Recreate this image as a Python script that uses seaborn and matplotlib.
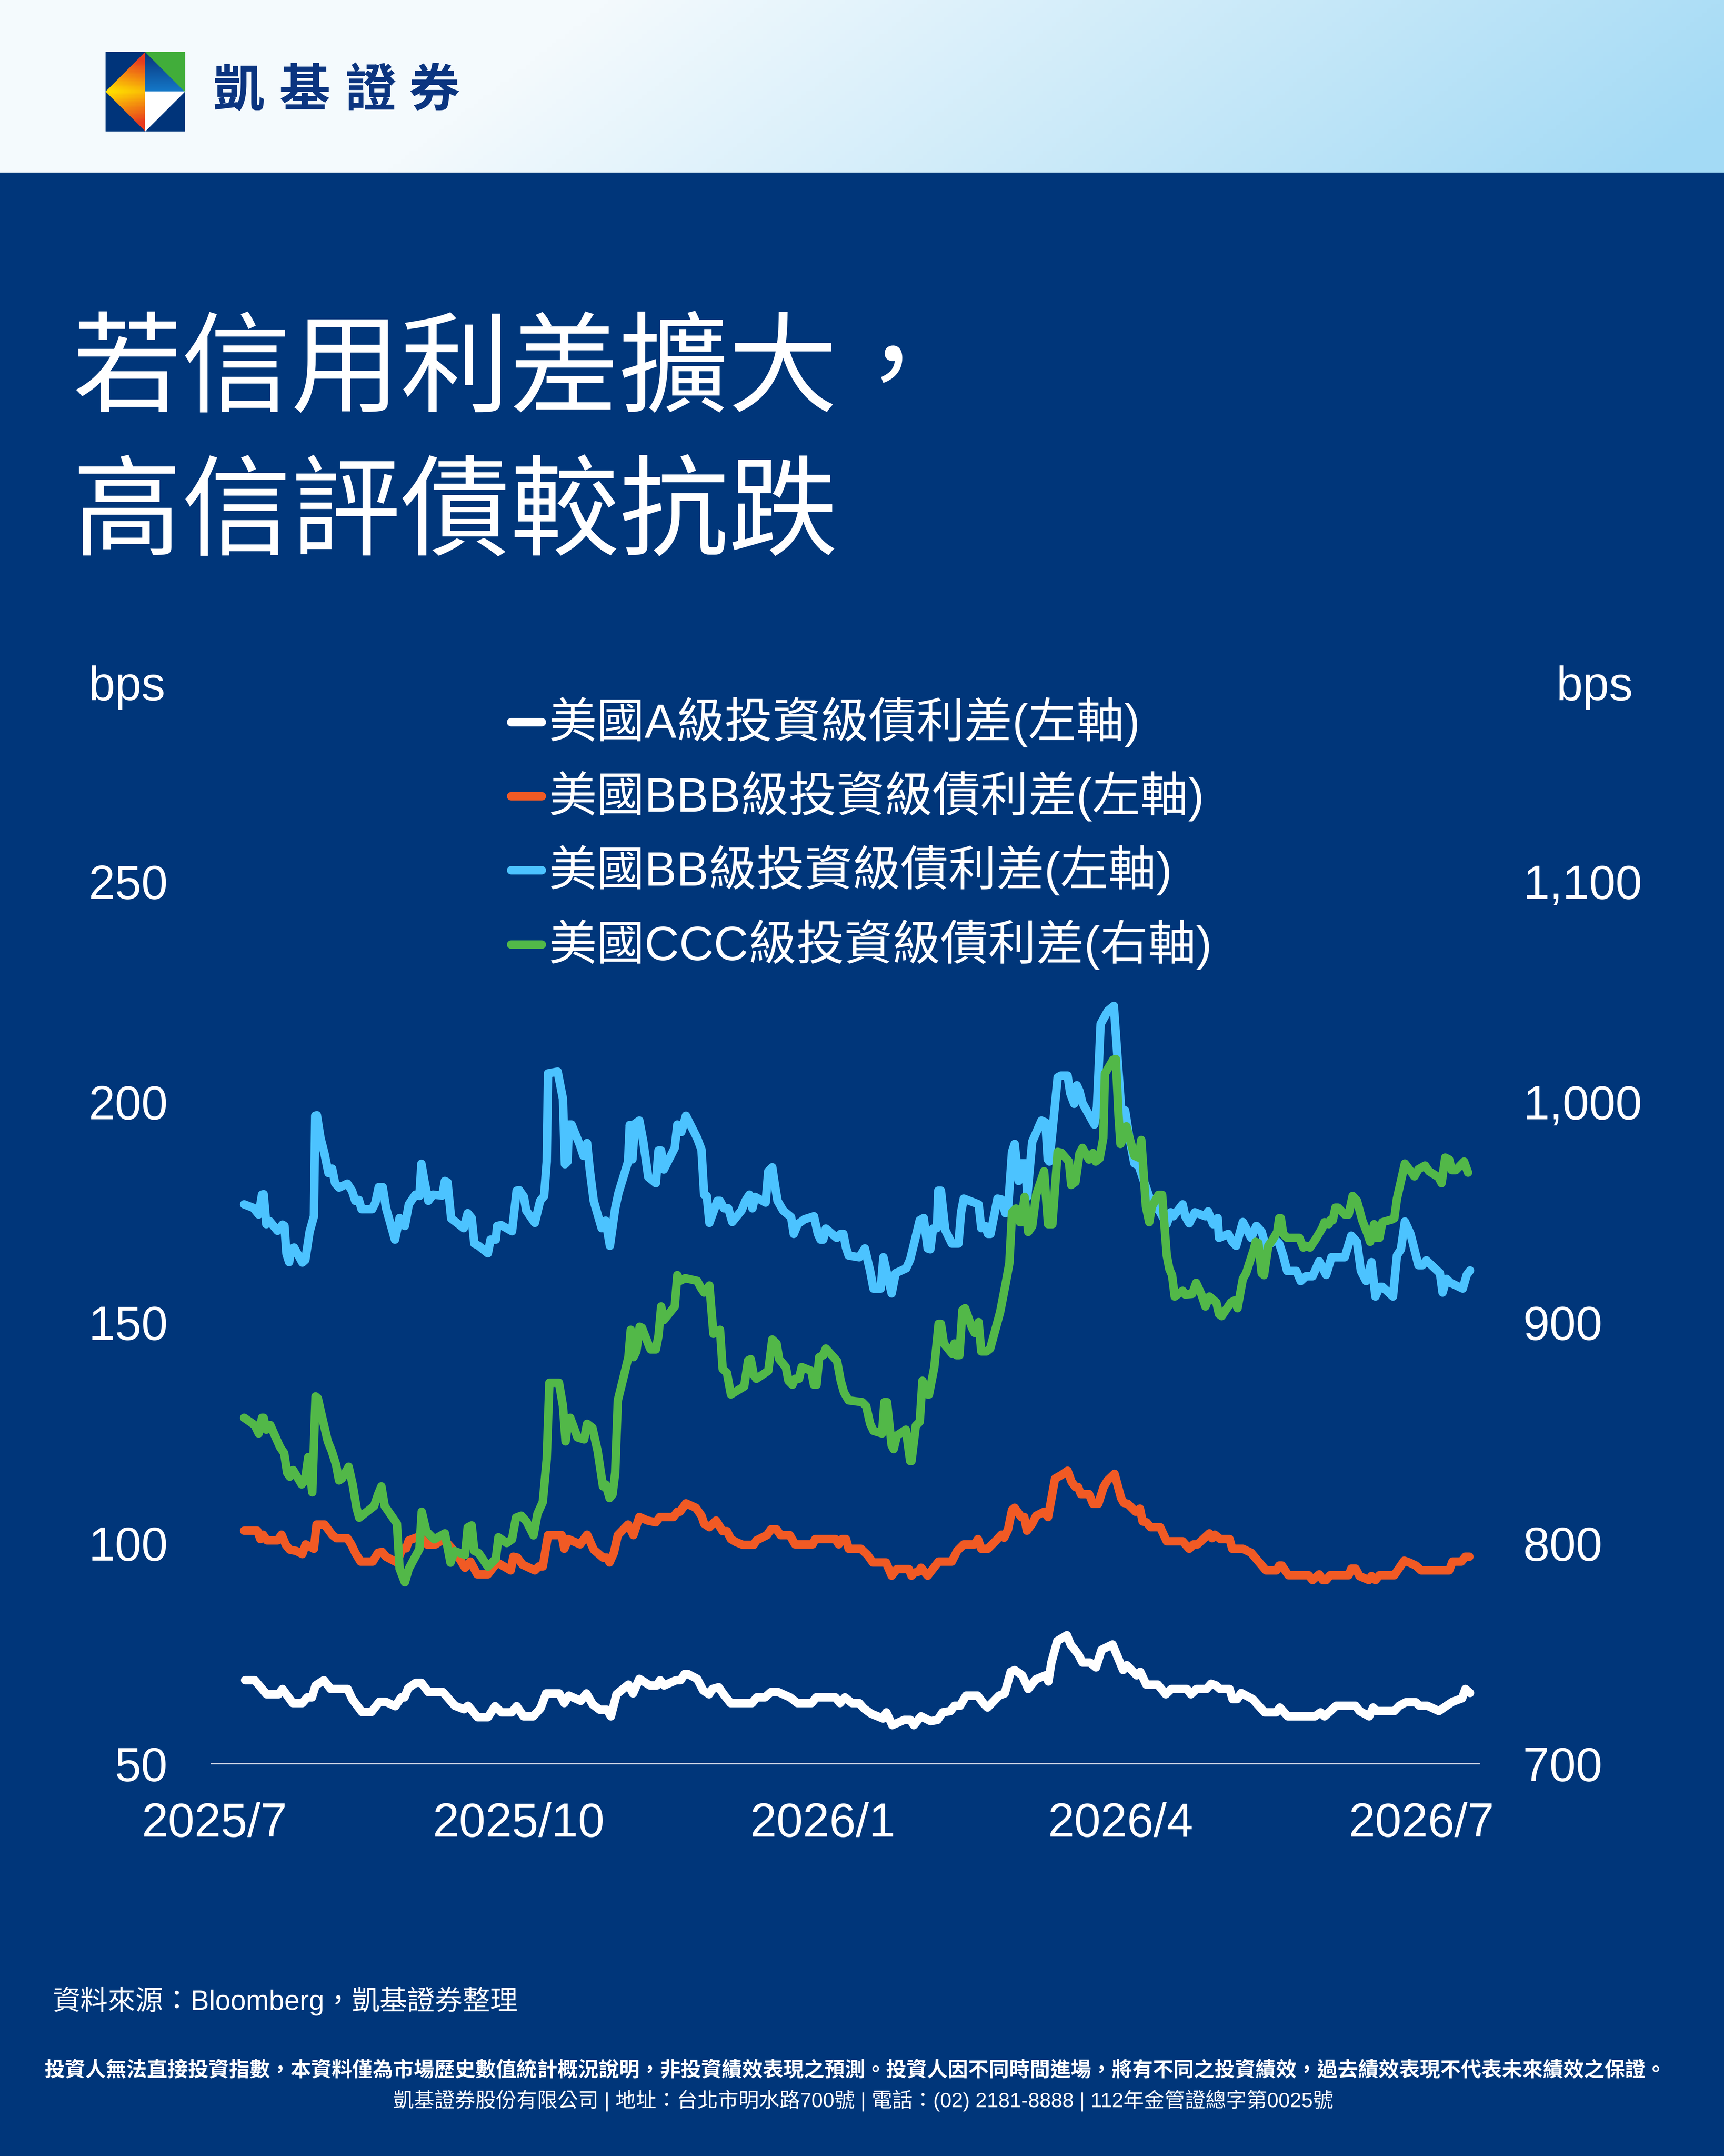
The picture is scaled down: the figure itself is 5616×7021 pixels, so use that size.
import numpy as np
import pandas as pd
import matplotlib
matplotlib.use('Agg')
import matplotlib.pyplot as plt
from matplotlib.patches import Rectangle, Polygon
from matplotlib.lines import Line2D
import seaborn as sns

# spreads, x = days after 2025-07-01, y = bps
a_day = [9.3, 12.2, 15.8, 19.4, 20.6, 23.7, 26.6, 28.1, 29.5, 30.6, 33.1, 35.2, 40.3, 41.7, 44.6, 47.5,
         49.9, 51.8, 54.7, 56.5, 57.5, 58.6, 60.9, 62.6, 64.7, 69.1, 72.7, 75.5, 76.7, 79.6, 82.7, 84.9,
         86.8, 89.9, 91.4, 93.5, 96.4, 98.6, 100.3, 104.3, 105.8, 107.2, 110.8, 112.5, 114.4, 116.5,
         118.7, 119.9, 121.6, 125.2, 126.6, 128.5, 131.7, 133.8, 134.8, 136.0, 139.6, 141.0, 142.2,
         143.2, 146.0, 147.8, 149.6, 150.6, 152.5, 154.0, 156.1, 162.6, 164.0, 166.5, 168.3, 170.5,
         174.1, 176.3, 180.6, 182.0, 187.8, 189.2, 190.7, 192.8, 195.0, 196.4, 198.6, 202.2, 203.2,
         205.0, 208.6, 210.5, 211.5, 213.7, 216.6, 218.7, 220.2, 222.6, 223.8, 225.5, 227.3, 230.8,
         232.6, 233.8, 237.3, 239.0, 240.8, 242.0, 244.3, 246.1, 248.4, 251.3, 252.2, 253.1, 254.9,
         257.8, 258.9, 261.3, 262.5, 264.8, 266.6, 268.3, 271.6, 274.8, 275.9, 278.9, 280.0, 281.8,
         285.3, 287.7, 289.4, 294.1, 295.3, 297.0, 300.0, 301.4, 302.9, 304.1, 307.0, 307.9, 309.3,
         310.5, 314.0, 315.8, 317.6, 321.1, 322.2, 324.6, 332.8, 334.5, 335.7, 337.5, 339.2, 345.1,
         346.3, 349.2, 350.4, 351.5, 356.8, 358.3, 360.3, 363.3, 364.4, 366.8, 370.3, 372.6, 374.4,
         377.3, 378.3, 379.7]
a_bps = [68.9, 68.9, 65.7, 65.7, 66.9, 63.7, 63.7, 65.0, 65.0, 67.7, 68.9, 66.9, 66.9, 64.6, 61.7, 61.7,
         64.0, 64.0, 63.0, 65.0, 65.0, 67.1, 68.3, 68.3, 66.2, 66.2, 63.1, 62.3, 63.1, 60.5, 60.5, 63.0,
         61.6, 61.6, 63.0, 60.7, 60.7, 62.5, 65.9, 65.9, 63.7, 65.4, 64.2, 65.9, 63.4, 62.2,
         62.2, 60.7, 65.7, 67.9, 65.9, 69.2, 67.7, 67.7, 68.9, 67.7, 68.9, 68.9, 70.3,
         70.3, 69.2, 66.6, 65.7, 66.9, 67.3, 65.7, 63.7, 63.7, 65.0, 65.0, 66.2, 66.2,
         65.0, 63.7, 63.7, 65.0, 65.0, 63.7, 65.0, 63.7, 63.7, 62.5, 61.3, 60.2, 61.6,
         58.7, 59.9, 59.9, 58.7, 60.7, 59.6, 59.9, 61.6, 61.9, 63.1, 63.1, 65.4, 65.4,
         63.6, 62.7, 65.4, 65.9, 70.8, 71.2, 70.0, 66.9, 69.1, 70.0, 68.6, 72.9, 77.8,
         79.1, 77.0, 74.7, 72.9, 72.9, 71.8, 75.8, 77.0, 71.2, 72.3, 70.0, 70.8, 67.9,
         67.9, 65.7, 66.9, 66.9, 65.7, 66.9, 66.9, 68.1, 67.7, 66.9, 66.9, 64.6, 64.6,
         66.0, 64.6, 63.1, 61.6, 61.6, 62.7, 60.7, 60.7, 61.6, 60.7, 61.9, 63.1, 63.1,
         61.9, 60.7, 62.7, 61.9, 61.9, 63.1, 63.9, 63.9, 63.1, 63.1, 61.9, 63.1, 64.0,
         64.8, 66.9, 66.0]

bbb_day = [9.0, 13.0, 13.9, 14.7, 15.9, 19.1, 20.3, 21.6, 22.8, 24.8, 26.6, 27.6, 30.1, 30.9, 33.3, 35.7,
           36.9, 40.2, 41.4, 42.6, 44.2, 47.9, 49.5, 50.7, 51.9, 55.2, 56.8, 58.0, 58.8, 62.0, 64.5,
           66.9, 69.3, 73.0, 75.8, 77.4, 79.5, 82.7, 85.5, 89.6, 90.4, 91.6, 93.2, 96.9, 98.1, 99.3,
           100.9, 105.0, 105.8, 107.0, 110.6, 112.7, 114.7, 117.5, 118.7, 119.5, 120.8, 122.0, 125.1,
           126.7, 128.5, 131.0, 133.5, 134.7, 138.8, 140.0, 140.8, 142.6, 145.6, 147.3, 148.1, 149.7,
           151.7, 153.7, 155.0, 156.2, 157.8, 159.8, 163.1, 163.9, 167.1, 168.3, 170.0, 171.2, 174.0,
           175.6, 180.9, 181.7, 187.8, 188.8, 189.8, 191.0, 191.8, 195.5, 197.5, 199.1, 203.1, 204.8,
           206.4, 210.0, 210.8, 211.7, 212.9, 213.7, 215.7, 219.0, 223.0, 224.6, 226.6, 229.9, 230.9,
           231.9, 233.9, 236.4, 238.0, 238.8, 240.0, 241.2, 242.0, 244.0, 244.9, 245.7, 247.3, 248.5,
           250.9, 252.1, 254.2, 256.3, 258.0, 259.2, 260.4, 261.2, 262.0, 264.5, 265.7, 267.3, 268.9,
           270.1, 272.2, 274.2, 275.0, 276.2, 278.6, 279.9, 280.7, 281.9, 283.1, 286.0, 288.0, 292.8,
           294.8, 296.1, 297.3, 300.9, 301.7, 302.5, 304.2, 307.0, 307.8, 311.0, 313.5, 318.0, 321.2,
           322.0, 322.8, 324.8, 330.9, 332.1, 334.1, 335.2, 336.2, 337.4, 343.0, 343.8, 345.1, 346.3,
           349.1, 349.9, 351.1, 352.3, 356.8, 359.8, 361.3, 363.3, 364.9, 373.4, 374.4, 377.1, 378.3,
           379.5]
bbb_bps = [102.8, 102.8, 100.9, 101.9, 100.6, 100.6, 101.9, 99.6, 98.5, 98.2, 97.5, 99.7, 98.7, 104.2, 104.2, 101.8,
           101.1, 101.1, 99.7, 97.8, 95.8, 95.8, 97.8, 98.0, 96.9, 95.6, 98.7, 98.8, 100.6, 101.5, 99.6,
           99.7, 100.9, 97.8, 94.4, 95.8, 92.9, 92.9, 95.6, 93.8, 96.9, 96.7, 95.1, 93.8, 94.7, 94.7,
           101.8, 101.8, 98.7, 100.9, 99.7, 101.9, 98.5, 96.7, 96.7, 95.6, 97.8, 101.8, 104.2,
           101.8, 105.9, 105.1, 104.7, 105.9, 105.9, 107.1, 107.1, 109.0, 108.0, 106.2, 104.4, 103.6,
           105.1, 102.7, 102.7, 100.9, 100.2, 99.6, 99.6, 100.6, 101.8, 103.1, 103.1, 101.8, 101.8,
           99.7, 99.7, 100.9, 100.9, 99.7, 100.9, 100.9, 98.7, 98.7, 97.3, 95.6, 95.6, 92.6,
           94.1, 94.1, 92.6, 93.3, 93.5, 94.4, 92.6, 95.8, 95.8, 98.2, 99.7, 99.7, 100.9,
           98.7, 98.7, 100.6, 101.9, 101.2, 103.1, 107.5, 108.0, 105.9, 105.9, 102.8, 104.4, 106.2,
           107.1, 105.9, 114.6, 115.5, 116.4, 113.9, 112.7, 112.7, 111.1, 111.1, 108.9, 108.9, 112.7,
           114.2, 115.7, 110.2, 109.1, 108.9, 107.1, 107.8, 104.9, 104.7, 103.6, 103.6, 100.4, 100.4,
           98.7, 99.7, 99.7, 102.2, 101.1, 101.9, 100.9, 100.9, 98.7, 98.7, 97.8, 93.8, 93.8,
           94.9, 94.9, 92.7, 92.7, 91.6, 92.9, 91.6, 91.6, 92.7, 92.7, 94.2, 94.2, 92.5,
           91.6, 92.5, 91.6, 92.7, 92.7, 96.0, 95.6, 94.9, 93.8, 93.8, 95.8, 95.8, 96.9,
           96.9]

bb_day = [9.0, 11.8, 13.4, 14.4, 14.9, 15.7, 16.7, 19.1, 20.6, 21.2, 21.8, 22.6, 23.3, 24.1, 26.6, 27.5,
          28.8, 30.1, 30.5, 31.0, 32.1, 33.3, 34.5, 35.6, 36.5, 37.7, 40.2, 41.6, 42.6, 43.7, 44.5, 47.7,
          48.7, 49.7, 50.9, 51.9, 54.6, 56.0, 57.6, 58.8, 60.8, 62.0, 62.6, 63.5, 64.7, 66.1, 68.9, 69.7,
          70.5, 71.6, 73.0, 75.4, 76.6, 77.8, 78.6, 79.9, 82.7, 83.5, 85.1, 85.5, 86.7, 90.0, 91.4, 92.2,
          93.6, 94.3, 96.9, 98.5, 99.7, 100.5, 100.9, 103.8, 105.4, 106.0, 106.8, 107.2, 108.0, 110.6,
          111.6, 112.7, 113.5, 114.7, 117.1, 118.3, 119.6, 121.2, 122.2, 125.1, 125.6, 126.4, 127.2,
          128.5, 129.7, 131.2, 133.5, 134.3, 135.1, 135.9, 139.2, 140.0, 141.2, 142.6, 146.0, 147.3,
          148.1, 148.9, 149.7, 152.1, 152.9, 154.1, 155.4, 156.6, 159.4, 160.6, 161.8, 162.7, 163.5,
          166.7, 167.5, 168.7, 169.5, 170.3, 172.0, 174.4, 175.2, 176.4, 178.4, 181.3, 182.5, 183.3,
          184.1, 184.9, 188.2, 189.4, 190.2, 191.0, 191.8, 195.0, 196.7, 198.3, 199.3, 201.5, 202.3,
          203.9, 204.8, 206.0, 209.2, 210.4, 213.3, 214.5, 215.7, 216.5, 217.3, 218.5, 218.9, 219.7,
          221.0, 223.0, 225.0, 225.8, 226.6, 231.1, 231.9, 233.1, 233.9, 234.7, 236.8, 238.0, 239.2,
          240.0, 241.2, 242.0, 243.2, 244.0, 245.3, 245.8, 247.3, 250.1, 251.3, 252.0, 252.5, 253.8,
          255.0, 256.0, 258.0, 258.8, 260.0, 260.8, 261.6, 262.5, 266.1, 266.9, 268.0, 270.2, 272.0,
          274.2, 275.4, 276.6, 278.2, 279.5, 282.7, 286.0, 288.0, 289.2, 290.0, 292.8, 293.6, 294.8,
          296.5, 299.7, 300.5, 302.0, 303.4, 303.8, 306.6, 307.8, 309.0, 311.0, 313.5, 315.1, 316.7,
          318.0, 320.8, 322.0, 323.2, 324.4, 327.2, 328.5, 330.1, 332.1, 334.1, 336.2, 337.8, 341.8,
          343.8, 345.5, 346.7, 348.3, 349.9, 351.1, 352.4, 353.2, 356.4, 357.6, 358.8, 360.0, 361.7,
          364.1, 365.3, 366.5, 370.6, 371.4, 372.6, 373.8, 377.5, 378.7, 379.7]
bb_bps = [176.8, 176.0, 174.5, 179.0, 179.1, 172.3, 173.0, 170.8, 172.2, 171.9, 165.6, 163.7, 166.7, 167.0, 163.6, 164.2,
          170.6, 174.1, 196.9, 197.0, 191.8, 188.3, 183.9, 184.9, 181.6, 180.6, 181.5, 179.9, 177.6, 177.8, 175.7, 175.7,
          177.2, 180.7, 180.7, 176.0, 168.8, 173.7, 171.9, 176.8, 179.0, 178.7, 186.0, 182.1, 177.6, 179.0, 178.8, 182.1,
          181.8, 173.6, 172.8, 171.4, 174.8, 173.7, 167.9, 167.4, 165.7, 168.8, 168.8, 171.9, 172.1, 170.7, 179.9, 180.0,
          178.5, 175.4, 172.6, 177.6, 178.7, 186.5, 206.5, 206.9, 200.7, 185.9, 186.5, 194.9, 194.9, 190.1,
          187.8, 190.7, 184.7, 177.6, 171.4, 173.1, 167.4, 175.9, 179.4, 186.5, 194.8, 187.0, 195.1,
          195.8, 191.0, 183.0, 181.6, 189.0, 189.0, 184.7, 189.6, 194.9, 193.2, 196.9, 191.8, 189.2,
          179.0, 178.7, 172.6, 177.6, 177.6, 175.9, 175.9, 172.8, 175.4, 177.6, 179.0, 175.9, 178.5,
          177.2, 184.3, 185.2, 181.2, 177.6, 175.4, 173.9, 170.1, 172.3, 173.4, 174.1, 170.1, 168.8,
          168.8, 171.3, 169.2, 170.1, 170.1, 167.0, 165.2, 164.8, 166.8, 161.7, 157.7, 157.7, 164.8,
          159.4, 156.6, 161.2, 162.3, 164.3, 173.2, 173.7, 166.8, 166.6, 171.3, 171.4, 179.9, 179.9,
          171.0, 167.9, 167.9, 175.0, 178.1, 176.8, 171.4, 171.9, 170.1, 170.1, 178.1, 177.9, 174.8,
          175.9, 188.7, 190.5, 182.1, 186.1, 186.1, 178.5, 191.0, 195.8, 195.4, 187.0, 186.5, 196.3,
          205.6, 206.0, 206.0, 202.0, 199.6, 203.8, 202.5, 199.8, 194.9, 198.9, 217.7, 220.7, 221.8,
          198.5, 198.1, 192.3, 186.1, 185.6, 178.5, 175.0, 172.3, 175.0, 174.1, 176.8, 174.1, 172.5,
          175.0, 174.1, 175.2, 172.3, 173.7, 169.2, 170.1, 168.3, 167.4, 172.8, 169.2, 171.9, 170.6,
          167.0, 168.8, 167.9, 165.2, 161.7, 161.7, 159.4, 160.5, 160.5, 163.9, 160.8, 164.8, 164.8,
          169.7, 168.3, 161.7, 159.4, 163.7, 155.9, 158.1, 158.1, 155.9, 165.2, 166.6, 172.9, 170.1,
          163.0, 163.0, 164.1, 161.2, 156.8, 159.9, 159.0, 157.7, 160.8, 161.8]

ccc_day = [9.0, 12.2, 13.4, 14.4, 14.9, 15.7, 16.9, 18.7, 19.9, 21.1, 22.0, 22.8, 23.8, 26.4, 27.4, 28.4,
           29.6, 30.6, 31.3, 32.5, 34.3, 35.5, 36.8, 37.7, 38.6, 40.6, 41.8, 43.0, 43.8, 48.3, 49.5, 50.5,
           51.5, 55.2, 56.0, 57.6, 58.8, 62.0, 62.7, 64.1, 66.5, 69.7, 71.4, 72.6, 75.8, 76.6, 77.8, 78.6,
           79.9, 82.7, 85.1, 85.9, 88.4, 90.0, 91.2, 92.8, 94.4, 96.5, 97.7, 99.3, 100.5, 101.3, 104.2,
           105.4, 106.2, 107.0, 107.6, 109.8, 111.8, 112.7, 114.3, 115.9, 117.5, 118.3, 119.5, 120.4,
           121.2, 122.0, 125.2, 125.9, 126.7, 127.6, 128.6, 129.3, 131.4, 131.9, 133.5, 134.3, 135.1,
           135.9, 139.2, 140.0, 140.8, 142.4, 146.0, 147.3, 148.1, 149.7, 150.9, 152.9, 153.7, 155.0,
           156.2, 160.2, 161.4, 162.2, 163.1, 163.9, 167.5, 168.7, 170.0, 170.8, 172.8, 173.6, 174.8,
           175.6, 176.8, 177.6, 180.5, 181.3, 182.1, 182.9, 184.1, 184.9, 188.3, 189.4, 190.4, 191.8,
           195.9, 197.1, 198.3, 199.3, 201.9, 202.6, 203.4, 204.8, 205.4, 206.4, 209.1, 210.4, 210.8,
           212.1, 213.3, 214.1, 215.7, 216.1, 217.7, 219.0, 219.7, 220.6, 223.0, 223.8, 224.4, 225.3,
           226.2, 227.0, 229.1, 229.9, 231.1, 231.9, 233.5, 234.6, 237.6, 239.2, 240.4, 241.2, 242.4,
           243.6, 244.0, 245.0, 246.1, 247.3, 248.5, 250.9, 252.1, 253.4, 255.0, 256.1, 258.4, 259.1,
           260.4, 261.6, 262.5, 264.5, 265.7, 266.5, 267.7, 268.8, 269.3, 271.8, 272.6, 273.4, 274.0,
           274.8, 275.8, 278.2, 279.5, 280.3, 281.7, 282.7, 283.5, 285.5, 286.6, 288.0, 288.8, 289.6,
           290.4, 292.8, 293.6, 295.7, 296.9, 298.5, 299.7, 300.9, 303.0, 303.8, 304.6, 307.4, 308.5,
           309.4, 311.0, 312.0, 314.3, 314.9, 315.7, 316.7, 317.4, 318.7, 320.0, 321.4, 322.0, 322.5,
           323.2, 324.4, 328.1, 329.3, 330.1, 331.3, 332.9, 335.0, 335.7, 337.0, 337.4, 338.2, 339.0,
           339.8, 341.8, 343.0, 344.2, 345.5, 347.1, 348.7, 349.5, 350.7, 351.5, 352.3, 353.2, 356.0,
           356.8, 357.6, 358.8, 360.0, 362.9, 364.1, 366.1, 367.3, 370.2, 371.1, 372.2, 373.4, 374.2,
           375.4, 377.9, 379.1]
ccc_bps = [856.8, 853.5, 849.7, 856.8, 856.8, 851.4, 853.5, 847.4, 843.4, 840.8, 831.9, 830.1, 833.1, 826.6, 828.4, 839.0,
           823.0, 866.5, 865.6, 857.6, 846.1, 841.7, 835.5, 828.4, 829.3, 834.6, 826.6, 815.9, 811.5, 816.8, 822.1, 825.7,
           816.8, 808.8, 788.4, 782.2, 788.4, 797.3, 814.2, 805.3, 801.7, 804.4, 791.1, 796.4, 794.6, 807.1, 808.0, 796.4,
           795.5, 789.3, 792.9, 802.6, 800.0, 801.7, 811.5, 812.4, 809.7, 803.5, 813.3, 818.6, 838.1, 872.7, 872.7,
           862.1, 846.1, 855.9, 856.8, 847.9, 847.0, 854.1, 852.3, 841.7, 825.7, 826.6, 820.4, 822.1,
           831.9, 864.7, 884.3, 896.7, 884.3, 886.9, 898.1, 897.6, 889.5, 887.8, 887.8, 894.0, 907.3,
           901.1, 907.3, 921.5, 918.9, 920.1, 918.9, 915.3, 913.6, 916.8, 894.9, 896.7, 879.0, 877.2,
           867.4, 871.0, 882.8, 883.4, 876.3, 874.5, 878.1, 892.3, 890.5, 883.4, 879.8, 873.6, 871.8,
           874.5, 874.5, 879.8, 878.1, 871.8, 871.8, 884.3, 885.2, 888.2, 882.5, 873.6, 868.3, 864.7,
           863.9, 862.1, 854.1, 850.9, 849.7, 863.9, 863.9, 844.3, 842.6, 848.8, 851.4, 837.2, 837.2,
           853.2, 855.0, 873.6, 867.4, 867.4, 879.8, 899.4, 899.4, 890.5, 886.0, 890.5, 885.2, 885.2,
           905.6, 906.5, 897.6, 895.3, 900.2, 886.9, 886.9, 888.2, 904.7, 917.1, 926.9, 949.9, 951.7,
           945.5, 945.5, 957.0, 941.1, 943.7, 957.9, 968.6, 944.6, 944.6, 977.4, 977.0, 973.0, 962.4,
           963.8, 976.6, 979.2, 973.9, 976.9, 973.0, 974.4, 983.7, 1012.9, 1019.2, 1019.5, 994.3, 981.0,
           983.3, 989.0, 975.7, 974.8, 982.8, 952.6, 945.5, 952.6, 957.9, 957.9, 930.4, 924.2, 921.5,
           911.8, 914.4, 912.7, 913.0, 918.0, 912.7, 907.3, 911.8, 909.1, 903.8, 902.9, 909.1, 910.0,
           906.5, 919.8, 922.4, 933.1, 936.6, 936.1, 922.4, 921.5, 934.8, 937.5, 941.1, 947.3, 947.3,
           940.2, 938.4, 938.4, 934.0, 934.8, 934.0, 937.5, 942.8, 945.5, 944.6, 946.4, 946.4, 952.1,
           952.1, 949.0, 949.0, 957.4, 955.3, 946.4, 940.2, 936.6, 944.6, 938.4, 938.4, 945.5, 946.7,
           947.3, 956.2, 964.1, 972.1, 966.3, 969.5, 971.2, 968.6, 965.9, 963.2, 974.8, 973.9, 969.1,
           969.1, 973.0, 968.0]

series_names = ['美國A級投資級債利差(左軸)', '美國BBB級投資級債利差(左軸)',
                '美國BB級投資級債利差(左軸)', '美國CCC級投資級債利差(右軸)']
series_colors = ['#ffffff', '#f15a24', '#4cc3ff', '#52b848']

left_ticks = [50, 100, 150, 200, 250, 300]
left_labels = ['50', '100', '150', '200', '250', '']
right_ticks = [700, 800, 900, 1000, 1100, 1200]
right_labels = ['700', '800', '900', '1,000', '1,100', '']
x_ticks = ['2025-07-01', '2025-10-01', '2026-01-01', '2026-04-01', '2026-07-01']
x_labels = ['2025/7', '2025/10', '2026/1', '2026/4', '2026/7']

title_lines = ['若信用利差擴大，', '高信評債較抗跌']
source_text = '資料來源：Bloomberg，凱基證券整理'
disclaimer = ('投資人無法直接投資指數，本資料僅為市場歷史數值統計概況說明，非投資績效表現之預測。'
              '投資人因不同時間進場，將有不同之投資績效，過去績效表現不代表未來績效之保證。')
address = '凱基證券股份有限公司 | 地址：台北市明水路700號 | 電話：(02) 2181-8888 | 112年金管證總字第0025號'

navy = '#00367a'
W, H = 6240, 7801          # layout is laid out in reference pixels
DPI = 90                   # keeps the png under the 40 MP reader limit
LW = 22                    # series line width, pt
base = pd.Timestamp('2025-07-01')

sns.set_theme(style='white')
plt.rcParams['font.family'] = ['Liberation Sans', 'Noto Sans CJK TC']


def to_frame(days, vals):
    return pd.DataFrame({'date': base + pd.to_timedelta(days, unit='D'), 'bps': vals})


fig = plt.figure(figsize=(W / 100, 78.012), dpi=DPI)
fig.patch.set_facecolor(navy)

# page background, header, logo and texts live in a pixel-space axes
bg = fig.add_axes([0, 0, 1, 1])
bg.set_autoscale_on(False)
bg.set_xlim(0, W)
bg.set_ylim(H, 0)
bg.axis('off')
bg.add_patch(Rectangle((0, 0), W, H, color=navy, zorder=0))

gx, gy = np.meshgrid(np.linspace(0, W, 400), np.linspace(0, 624, 40))
gt = np.clip((gx + 1.28 * gy - 2200) / 4600, 0, 1)[..., None]
c0 = np.array([244, 250, 253]) / 255
c1 = np.array([163, 218, 245]) / 255
bg.imshow(c0 * (1 - gt) + c1 * gt, extent=(0, W, 624, 0), aspect='auto', zorder=1)

# logo
lx, ly, S = 382, 188, 287
cx, cy = lx + S / 2, ly + S / 2
bg.add_patch(Rectangle((lx, ly), S, S, color='#00347a', zorder=2))
tri = Polygon([[cx, ly], [lx, cy], [cx, ly + S]], closed=True, fc='none', ec='none', transform=bg.transData)
bg.add_patch(tri)
yy, xx = np.meshgrid(np.linspace(0, 1, 60), np.linspace(0, 1, 30), indexing='ij')
u = np.clip(np.abs(yy - 0.5) * 2 * 1.05 + 0.25 * xx - 0.05, 0, 1)[..., None]
yel = np.array([255, 221, 0]) / 255
red = np.array([232, 60, 30]) / 255
im = bg.imshow(yel * (1 - u) + red * u, extent=(lx, cx, ly + S, ly), aspect='auto', zorder=3)
im.set_clip_path(tri)
blue_tri = Polygon([[cx, ly], [cx, cy], [lx + S, cy]], closed=True, fc='none', ec='none', transform=bg.transData)
bg.add_patch(blue_tri)
v = np.linspace(0, 1, 60)[:, None, None] * np.ones((60, 30, 1))
dark = np.array([10, 50, 120]) / 255
light = np.array([20, 120, 200]) / 255
im2 = bg.imshow(dark * (1 - v) + light * v, extent=(cx, lx + S, cy, ly), aspect='auto', zorder=3)
im2.set_clip_path(blue_tri)
bg.add_patch(Polygon([[cx, ly], [lx + S, ly], [lx + S, cy]], closed=True, color='#41ad3a', zorder=3))
bg.add_patch(Polygon([[cx, cy], [lx + S, cy], [cx, ly + S]], closed=True, color='white', zorder=3))

for ch, x in zip('凱基證券', [864, 1103, 1342, 1572]):
    bg.text(x, 330, ch, fontsize=133, fontweight='bold', color='#0b3580',
            ha='center', va='center', family='Noto Sans CJK TC', zorder=4)

# title
bg.text(262, 1358, title_lines[0], fontsize=285, color='white', ha='left', va='center', zorder=4)
bg.text(262, 1876, title_lines[1], fontsize=285, color='white', ha='left', va='center', zorder=4)

# axis unit labels
bg.text(460, 2488, 'bps', fontsize=124, color='white', ha='center', va='center', zorder=4)
bg.text(5772, 2488, 'bps', fontsize=124, color='white', ha='center', va='center', zorder=4)

# legend
for y, name, color in zip([2613, 2881, 3149, 3418], series_names, series_colors):
    bg.add_line(Line2D([1850, 1961], [y, y], color=color, lw=LW, solid_capstyle='round', zorder=4))
    bg.text(1986, y, name, fontsize=125, color='white', ha='left', va='center', zorder=4)

# footer
bg.text(191, 7240, source_text, fontsize=72, color='white', ha='left', va='center', zorder=4)
bg.text(3095, 7493, disclaimer, fontsize=53.5, fontweight='bold', color='white',
        ha='center', va='center', zorder=4)
bg.text(3125, 7600, address, fontsize=53.5, color='white', ha='center', va='center', zorder=4)

# chart
x0, x1, ytop, ybot = 764, 5353, 2392, 6381
ax = fig.add_axes([x0 / W, 1 - ybot / H, (x1 - x0) / W, (ybot - ytop) / H])
ax.set_facecolor('none')
ax2 = ax.twinx()
ax2.set_facecolor('none')

for days, vals, color in [(a_day, a_bps, series_colors[0]), (bbb_day, bbb_bps, series_colors[1]),
                          (bb_day, bb_bps, series_colors[2])]:
    sns.lineplot(data=to_frame(days, vals), x='date', y='bps', ax=ax, color=color, linewidth=LW,
                 estimator=None, sort=False, legend=False,
                 solid_capstyle='round', solid_joinstyle='round')
sns.lineplot(data=to_frame(ccc_day, ccc_bps), x='date', y='bps', ax=ax2, color=series_colors[3],
             linewidth=LW, estimator=None, sort=False, legend=False,
             solid_capstyle='round', solid_joinstyle='round')

ax.set_xlim(base - pd.Timedelta(days=1.0), base + pd.Timedelta(days=382.4))
ax.set_ylim(50, 300)
ax2.set_ylim(700, 1200)
ax.set_yticks(left_ticks)
ax.set_yticklabels(left_labels)
ax2.set_yticks(right_ticks)
ax2.set_yticklabels(right_labels)
ax.set_xticks(pd.to_datetime(x_ticks))
ax.set_xticklabels(x_labels)
for a in (ax, ax2):
    a.set_xlabel('')
    a.set_ylabel('')
    a.grid(False)
    for s in a.spines.values():
        s.set_visible(False)
ax.spines['bottom'].set_visible(True)
ax.spines['bottom'].set_color('#c9d3e3')
ax.spines['bottom'].set_linewidth(3.6)
ax.tick_params(axis='x', length=0, pad=100, labelsize=124, labelcolor='white')
ax.tick_params(axis='y', length=0, pad=113, labelsize=124, labelcolor='white')
ax2.tick_params(axis='y', length=0, pad=115, labelsize=124, labelcolor='white')

fig.savefig('out.png', dpi=DPI, facecolor=navy)
